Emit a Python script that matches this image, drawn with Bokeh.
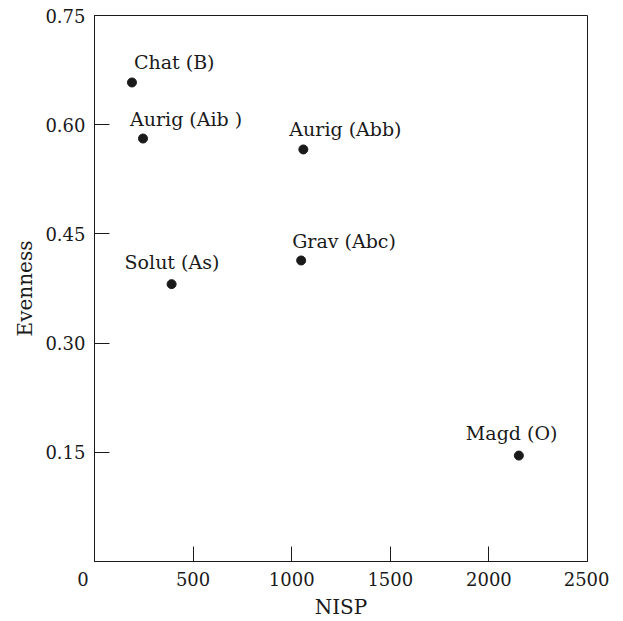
from bokeh.plotting import figure
from bokeh.models import ColumnDataSource, FixedTicker
from bokeh.core.properties import value
from bokeh.embed import file_html
from bokeh.resources import INLINE

# Data
sites = ["Chat (B)", "Aurig (Aib )", "Solut (As)", "Aurig (Abb)", "Grav (Abc)", "Magd (O)"]
nisp = [190, 246, 391, 1059, 1048, 2152]
evenness = [0.658, 0.581, 0.381, 0.566, 0.4135, 0.1455]
x_ticks = [0, 500, 1000, 1500, 2000, 2500]
y_ticks = [0.15, 0.30, 0.45, 0.60, 0.75]

# label placement (pixels, relative to point)
label_dx = [2, -13, -47, -14, -9, -53]
label_dy = [-20, -20, -22, -20, -19, -23]

FONT = "DejaVu Serif"
INK = "#1a1a1a"

src = ColumnDataSource(dict(x=nisp, y=evenness, name=sites, dx=label_dx, dy=label_dy))

p = figure(
    frame_width=493, frame_height=546,
    x_range=(0, 2500), y_range=(0, 0.75),
    output_backend="svg", toolbar_location=None,
    min_border_left=94, min_border_top=15, min_border_right=22, min_border_bottom=40,
    background_fill_color="white", border_fill_color="white",
)
p.grid.visible = False
p.outline_line_color = INK
p.outline_line_width = 1

p.scatter("x", "y", source=src, size=9, color=INK)
p.text("x", "y", text="name", source=src, x_offset="dx", y_offset="dy",
       text_font=value(FONT), text_font_size="19px", text_color=INK,
       text_baseline="alphabetic", text_align="left")

for ax in (p.xaxis[0], p.yaxis[0]):
    ax.major_tick_in = 15
    ax.major_tick_out = 0
    ax.minor_tick_in = 0
    ax.minor_tick_out = 0
    ax.axis_line_color = INK
    ax.major_tick_line_color = INK
    ax.major_label_text_font = FONT
    ax.major_label_text_font_size = "18px"
    ax.major_label_text_color = INK
    ax.axis_label_text_font = FONT
    ax.axis_label_text_font_size = "20px"
    ax.axis_label_text_font_style = "normal"
    ax.axis_label_text_color = INK

p.xaxis.ticker = FixedTicker(ticks=x_ticks)
p.yaxis.ticker = FixedTicker(ticks=y_ticks)
p.yaxis.major_label_overrides = {t: f"{t:.2f}" for t in y_ticks}
p.xaxis.major_label_overrides = {0: "0\u00a0\u00a0\u00a0\u00a0"}
p.xaxis.axis_label = "NISP"
p.yaxis.axis_label = "Evenness"
p.xaxis.major_label_standoff = 7
p.yaxis.major_label_standoff = 9
p.xaxis.axis_label_standoff = 2
p.yaxis.axis_label_standoff = 5

open("out.html", "w").write(file_html(p, INLINE))
